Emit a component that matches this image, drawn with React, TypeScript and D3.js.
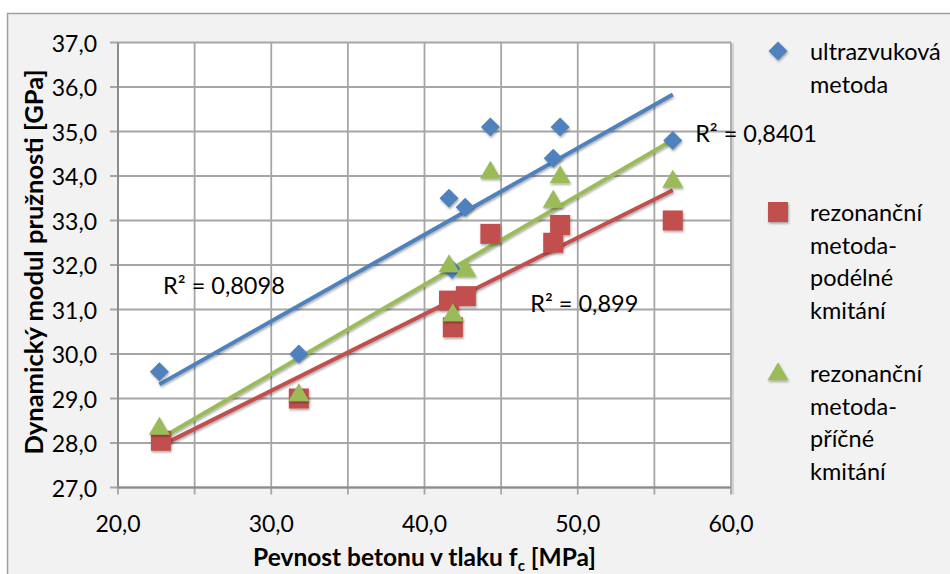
import React from "react";
import * as d3 from "d3";

const W = 950;
const H = 574;

// concrete compressive strength [MPa]
const xBlue = [22.7, 31.8, 41.6, 41.8, 42.65, 44.3, 48.4, 48.85, 56.2];
const yBlue = [29.6, 30.0, 33.5, 31.9, 33.3, 35.1, 34.4, 35.1, 34.8];
const xRed = [22.8, 31.8, 41.6, 41.85, 42.7, 44.3, 48.4, 48.85, 56.2];
const yRed = [28.05, 29.0, 31.2, 30.6, 31.3, 32.7, 32.5, 32.9, 33.0];
const xGreen = [22.7, 31.8, 41.6, 41.85, 42.7, 44.3, 48.4, 48.85, 56.2];
const yGreen = [28.35, 29.1, 32.0, 30.9, 31.9, 34.1, 33.45, 34.0, 33.9];

const seriesNames = [
  ["ultrazvuková", "metoda"],
  ["rezonanční", "metoda-", "podélné", "kmitání"],
  ["rezonanční", "metoda-", "příčné", "kmitání"],
];
const seriesColors = ["#4f81bd", "#c0504d", "#9bbb59"];
const seriesShapes = ["diamond", "square", "triangle"];

const r2Texts = ["R² = 0,8098", "R² = 0,8401", "R² = 0,899"];
const r2X = [22.94, 57.66, 46.9];
const r2Y = [31.55, 34.97, 31.15];

const xTicks = [20, 25, 30, 35, 40, 45, 50, 55, 60];
const xLabelTicks = [20, 30, 40, 50, 60];
const yTicks = [27, 28, 29, 30, 31, 32, 33, 34, 35, 36, 37];

const xTitle = "Pevnost betonu v tlaku f";
const xTitleSub = "c";
const xTitleEnd = " [MPa]";
const yTitle = "Dynamický modul pružnosti [GPa]";

const FONT = "Lato, 'Open Sans', 'DejaVu Sans', sans-serif";

const plot = { left: 118, right: 731, top: 42.5, bottom: 487.5 };

const fmt = (v: number) => d3.format(".1f")(v).replace(".", ",");

function regression(xs: number[], ys: number[]) {
  const mx = d3.mean(xs)!;
  const my = d3.mean(ys)!;
  let sxy = 0;
  let sxx = 0;
  xs.forEach((x, i) => {
    sxy += (x - mx) * (ys[i] - my);
    sxx += (x - mx) * (x - mx);
  });
  const b = sxy / sxx;
  const a = my - b * mx;
  return (x: number) => a + b * x;
}

function Marker({ shape, cx, cy, color }: { shape: string; cx: number; cy: number; color: string }) {
  if (shape === "diamond") {
    const s = 9.5;
    return (
      <path
        d={`M${cx},${cy - s}L${cx + s},${cy}L${cx},${cy + s}L${cx - s},${cy}Z`}
        fill={color}
      />
    );
  }
  if (shape === "square") {
    const s = 10;
    return <rect x={cx - s} y={cy - s} width={2 * s} height={2 * s} fill={color} />;
  }
  const w = 10.5;
  const h = 18;
  return (
    <path
      d={`M${cx},${cy - h * 0.6}L${cx + w},${cy + h * 0.4}L${cx - w},${cy + h * 0.4}Z`}
      fill={color}
    />
  );
}

export default function App() {
  const x = d3.scaleLinear().domain([20, 60]).range([plot.left, plot.right]);
  const y = d3.scaleLinear().domain([27, 37]).range([plot.bottom, plot.top]);

  const series = [
    { xs: xBlue, ys: yBlue },
    { xs: xRed, ys: yRed },
    { xs: xGreen, ys: yGreen },
  ];

  const line = d3
    .line<[number, number]>()
    .x((d) => x(d[0]))
    .y((d) => y(d[1]));

  const gridColor = "#a6a6a6";

  return (
    <svg
      width={W}
      height={H}
      style={{ position: "absolute", left: 0, top: 0, display: "block" }}
      fontFamily={FONT}
    >
      <defs>
        <filter id="sh" x="-20%" y="-20%" width="140%" height="160%">
          <feDropShadow dx="0.8" dy="1.6" stdDeviation="0.9" floodColor="#000" floodOpacity="0.35" />
        </filter>
      </defs>
      <rect x={0} y={0} width={W} height={H} fill="#ffffff" />
      <rect x={7.5} y={13.5} width={W + 20} height={H + 20} fill="#f2f2f2" stroke="#a0a0a0" strokeWidth={1.5} />
      {/* plot area */}
      <rect
        x={plot.left}
        y={plot.top}
        width={plot.right - plot.left}
        height={plot.bottom - plot.top}
        fill="#ffffff"
      />
      {/* horizontal gridlines */}
      {yTicks.map((t) => (
        <line
          key={"hy" + t}
          x1={plot.left - 8}
          x2={plot.right}
          y1={y(t)}
          y2={y(t)}
          stroke={gridColor}
          strokeWidth={1.8}
        />
      ))}
      {/* vertical gridlines */}
      {xTicks.map((t) => (
        <line
          key={"vx" + t}
          x1={x(t)}
          x2={x(t)}
          y1={plot.top}
          y2={plot.bottom + 7}
          stroke={gridColor}
          strokeWidth={1.8}
        />
      ))}
      {/* right edge shade */}
      <line x1={plot.right + 2} x2={plot.right + 2} y1={plot.top + 1} y2={plot.bottom + 7} stroke="#c8c8c8" strokeWidth={1.5} />
      {/* axes */}
      <line x1={plot.left} x2={plot.left} y1={plot.top} y2={plot.bottom} stroke="#8c8c8c" strokeWidth={2} />
      <line x1={plot.left} x2={plot.right} y1={plot.bottom} y2={plot.bottom} stroke="#8c8c8c" strokeWidth={2} />

      {/* y tick labels */}
      {yTicks.map((t) => (
        <text
          key={"ly" + t}
          x={97}
          y={y(t)}
          textAnchor="end"
          dominantBaseline="central"
          fontSize={23}
          fill="#000"
        >
          {fmt(t)}
        </text>
      ))}
      {/* x tick labels */}
      {xLabelTicks.map((t) => (
        <text
          key={"lx" + t}
          x={x(t)}
          y={523}
          textAnchor="middle"
          dominantBaseline="central"
          fontSize={23}
          fill="#000"
        >
          {fmt(t)}
        </text>
      ))}

      {/* trendlines */}
      {series.map((s, i) => {
        const f = regression(s.xs, s.ys);
        const x0 = d3.min(s.xs)!;
        const x1 = d3.max(s.xs)!;
        return (
          <path
            key={"tl" + i}
            d={line([
              [x0, f(x0)],
              [x1, f(x1)],
            ])!}
            stroke={seriesColors[i]}
            strokeWidth={4}
            fill="none"
            filter="url(#sh)"
          />
        );
      })}
      {/* markers */}
      {series.map((s, i) => (
        <g key={"m" + i} filter="url(#sh)">
          {s.xs.map((xv, j) => (
            <Marker key={j} shape={seriesShapes[i]} cx={x(xv)} cy={y(s.ys[j])} color={seriesColors[i]} />
          ))}
        </g>
      ))}

      {/* R² labels */}
      {r2Texts.map((t, i) => (
        <text key={"r2" + i} x={x(r2X[i])} y={y(r2Y[i])} dominantBaseline="central" fontSize={23.5} fill="#000">
          {t}
        </text>
      ))}

      {/* axis titles */}
      <text
        transform={`translate(33,${(plot.top + plot.bottom) / 2 - 3}) rotate(-90)`}
        textAnchor="middle"
        dominantBaseline="central"
        fontSize={24}
        fontWeight="bold"
        textLength={385}
        lengthAdjust="spacingAndGlyphs"
        fill="#000"
      >
        {yTitle}
      </text>
      <text x={(plot.left + plot.right) / 2} y={566} textAnchor="middle" fontSize={24.5} fontWeight="bold" fill="#000">
        {xTitle}
        <tspan fontSize={15} dy={5}>
          {xTitleSub}
        </tspan>
        <tspan dy={-5}>{xTitleEnd}</tspan>
      </text>

      {/* legend */}
      {seriesNames.map((lines, i) => {
        const y0 = 51 + i * 161;
        return (
          <g key={"lg" + i}>
            <g filter="url(#sh)">
              <Marker shape={seriesShapes[i]} cx={778} cy={y0} color={seriesColors[i]} />
            </g>
            {lines.map((ln, k) => (
              <text key={k} x={810} y={y0 + k * 32.5} dominantBaseline="central" fontSize={23.5} fill="#000">
                {ln}
              </text>
            ))}
          </g>
        );
      })}
    </svg>
  );
}
